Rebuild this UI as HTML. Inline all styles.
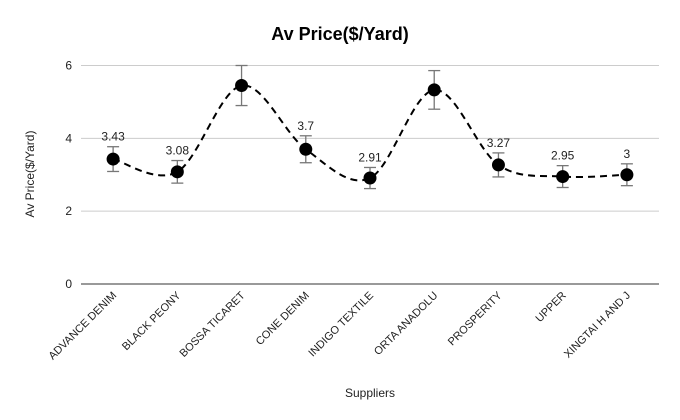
<!DOCTYPE html>
<html><head><meta charset="utf-8"><style>
body{margin:0;background:#fff;}
svg{display:block;font-family:"Liberation Sans",Arial,sans-serif;}
</style></head><body>
<svg id="chart" width="680" height="420">
<text x="340" y="40" text-anchor="middle" font-size="18" font-weight="bold" fill="#000">Av Price($/Yard)</text>
<text x="0" y="0" transform="translate(34,174) rotate(-90)" text-anchor="middle" font-size="12" fill="#222">Av Price($/Yard)</text>
<text x="370" y="397" text-anchor="middle" font-size="12" fill="#222">Suppliers</text>
<g id="grid"></g><g id="marks"></g>
</svg>
<script>
const categories=["ADVANCE DENIM","BLACK PEONY","BOSSA TICARET","CONE DENIM","INDIGO TEXTILE","ORTA ANADOLU","PROSPERITY","UPPER","XINGTAI H AND J"];
const values=[3.43,3.08,5.45,3.7,2.91,5.33,3.27,2.95,3];
const errors=[0.34,0.31,0.55,0.37,0.29,0.53,0.33,0.3,0.3];
const labels=["3.43","3.08","","3.7","2.91","","3.27","2.95","3"];
const yTicks=[0,2,4,6];
const NS="http://www.w3.org/2000/svg";
const L=81,R=659,T=65.5,B=284,ymax=6;
const x=i=>L+(R-L)/categories.length*(i+0.5);
const y=v=>B-(B-T)*v/ymax;
function mk(tag,attrs,parent,name){const e=document.createElementNS(NS,tag);for(const k in attrs)e.setAttribute(k,attrs[k]);


parent.appendChild(e);return e;}
const g=document.getElementById('grid'),m=document.getElementById('marks');
yTicks.forEach(t=>{
 mk('line',{x1:L,x2:R,y1:y(t),y2:y(t),stroke:t===0?'#333':'#ccc','stroke-width':1},g,'gridline-'+t);
 const tx=mk('text',{x:L-9,y:y(t)+4,'text-anchor':'end','font-size':12,fill:'#222'},g,'y-tick-label');tx.textContent=t;
});
categories.forEach((c,i)=>{
 const tx=mk('text',{x:0,y:0,transform:`translate(${x(i)+4},${B+12}) rotate(-45)`,'text-anchor':'end','font-size':11,fill:'#222'},g,'x-tick-label');tx.textContent=c;
});
// smooth curve (Catmull-Rom)
const pts=values.map((v,i)=>[x(i),y(v)]);
let d=`M${pts[0][0]},${pts[0][1]}`;
for(let i=0;i<pts.length-1;i++){const p0=pts[Math.max(0,i-1)],p1=pts[i],p2=pts[i+1],p3=pts[Math.min(pts.length-1,i+2)];
 const c1=[p1[0]+(p2[0]-p0[0])/6,p1[1]+(p2[1]-p0[1])/6],c2=[p2[0]-(p3[0]-p1[0])/6,p2[1]-(p3[1]-p1[1])/6];
 d+=` C${c1[0]},${c1[1]} ${c2[0]},${c2[1]} ${p2[0]},${p2[1]}`;}
mk('path',{d:d,fill:'none',stroke:'#000','stroke-width':2,'stroke-dasharray':'7,5'},m,'series-line');
values.forEach((v,i)=>{
 const cx=x(i),e=errors[i];
 mk('line',{x1:cx,x2:cx,y1:y(v+e),y2:y(v-e),stroke:'#777','stroke-width':1.3},m,'error-bar');
 mk('line',{x1:cx-6,x2:cx+6,y1:y(v+e),y2:y(v+e),stroke:'#777','stroke-width':1.3},m,'error-cap-top');
 mk('line',{x1:cx-6,x2:cx+6,y1:y(v-e),y2:y(v-e),stroke:'#777','stroke-width':1.3},m,'error-cap-bottom');
 mk('circle',{cx:cx,cy:y(v),r:6.5,fill:'#000'},m,'data-point');
 if(labels[i]){const t=mk('text',{x:cx,y:y(v+e)-6,'text-anchor':'middle','font-size':12,fill:'#222'},m,'data-label');t.textContent=labels[i];}
});
</script>
</body></html>
